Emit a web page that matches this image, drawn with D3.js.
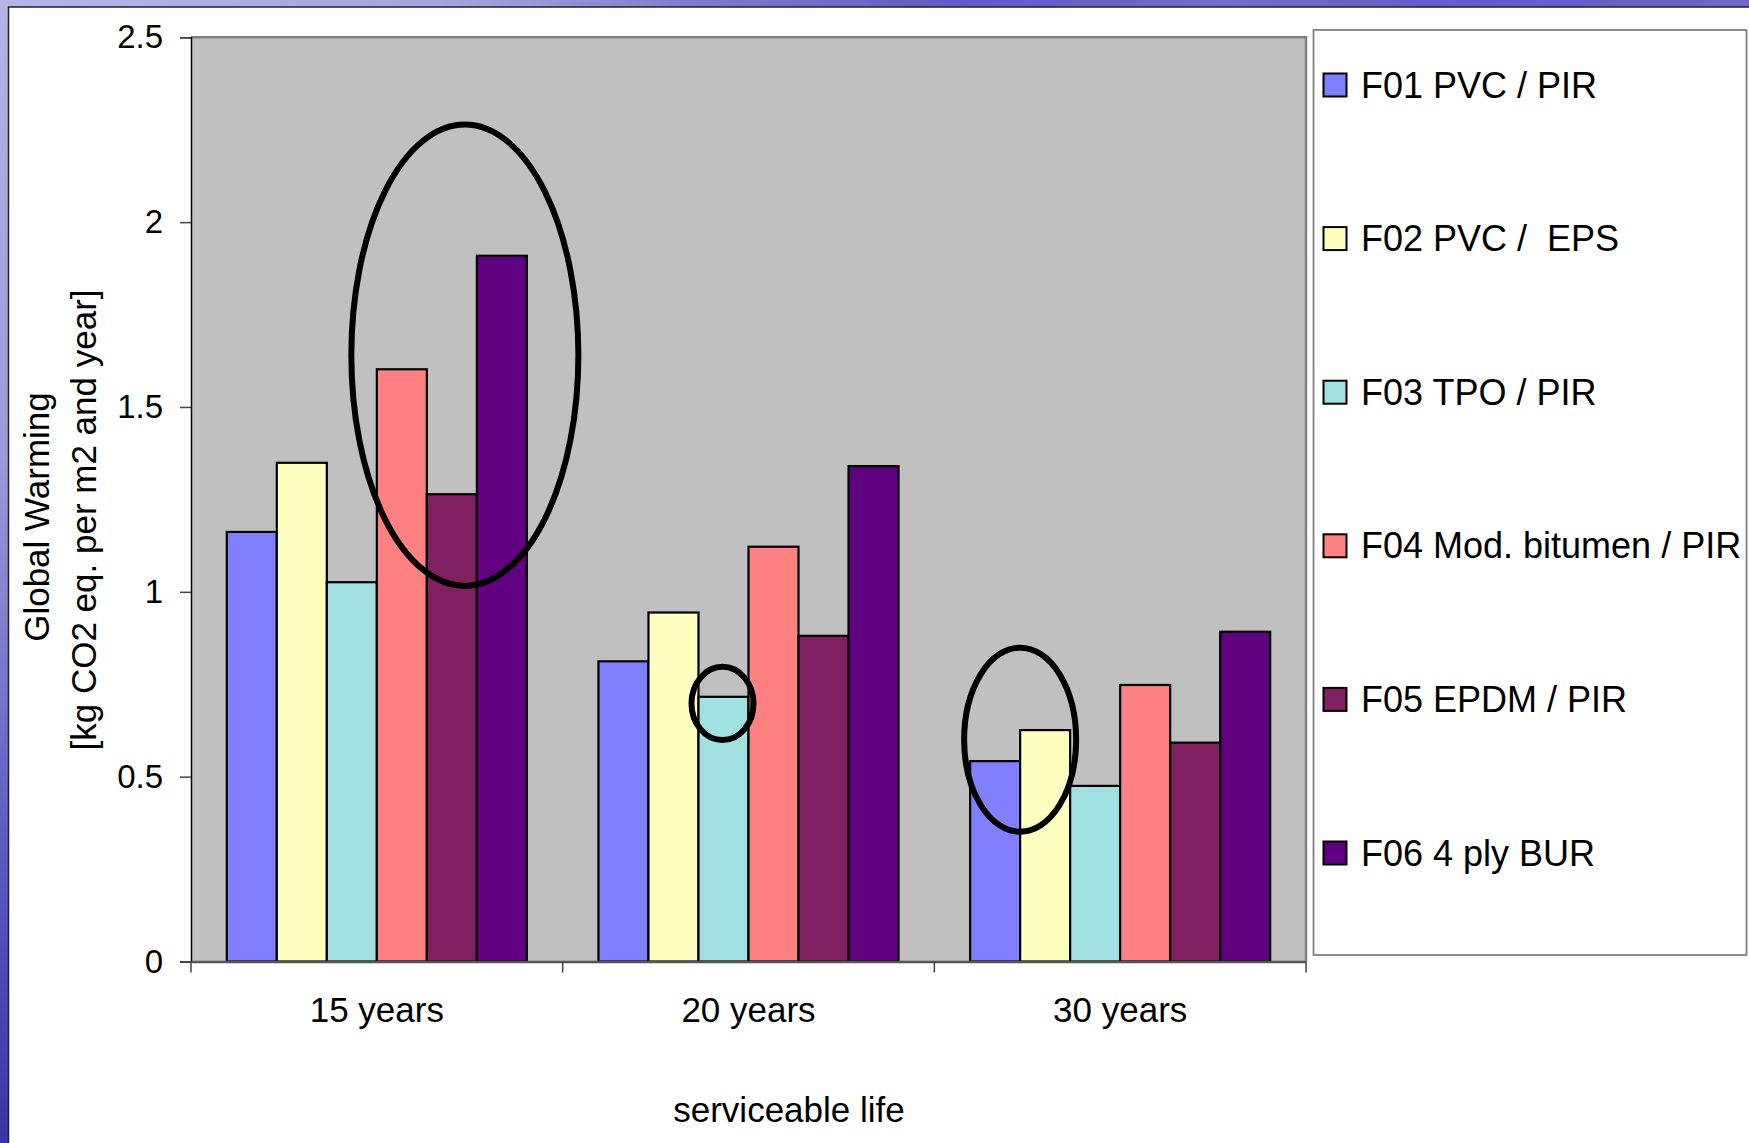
<!DOCTYPE html>
<html>
<head>
<meta charset="utf-8">
<script src="https://cdn.jsdelivr.net/npm/d3@7"></script>
<style>
  html, body { margin: 0; padding: 0; background: #fff; }
  svg { display: block; }
  text { font-family: "Liberation Sans", Arial, sans-serif; fill: #000; }
</style>
</head>
<body>
<svg id="chart" width="1749" height="1143"></svg>
<script>
// ---- data ----
const categories = ["15 years", "20 years", "30 years"];
const seriesNames = ["F01 PVC / PIR", "F02 PVC /  EPS", "F03 TPO / PIR", "F04 Mod. bitumen / PIR", "F05 EPDM / PIR", "F06 4 ply BUR"];
const seriesColors = ["#8080FF", "#FFFFC0", "#A0E0E0", "#FF8080", "#802060", "#600080"];
const F01 = [1.162, 0.812, 0.542];
const F02 = [1.349, 0.944, 0.626];
const F03 = [1.026, 0.716, 0.475];
const F04 = [1.602, 1.122, 0.748];
const F05 = [1.264, 0.881, 0.592];
const F06 = [1.909, 1.340, 0.892];
const seriesValues = [F01, F02, F03, F04, F05, F06];
const yTicks = [0, 0.5, 1, 1.5, 2, 2.5];
const yTickLabels = ["0", "0.5", "1", "1.5", "2", "2.5"];
const yTitle = ["Global Warming", "[kg CO2 eq. per m2 and year]"];
const xTitle = "serviceable life";
// annotation ellipses: category, centre in bar slots, centre value, radii (slots / value units)
const annotCategory = ["15 years", "20 years", "30 years"];
const annotSlot = [4.76, 2.48, 1.0];
const annotValue = [1.64, 0.698, 0.60];
const annotRxSlots = [2.27, 0.62, 1.12];
const annotRyValue = [0.624, 0.099, 0.249];

// ---- layout ----
const W = 1749, H = 1143;
const plot = { left: 191, right: 1306, top: 37.3, bottom: 961.5 };
const svg = d3.select("#chart");

// background gradients (slide)
const defs = svg.append("defs");
const gTop = defs.append("linearGradient").attr("id", "gTop").attr("x1", 0).attr("x2", 1).attr("y1", 0).attr("y2", 0);
[["0%", "#B4B4E6"], ["25%", "#A6A6DE"], ["40%", "#7C7CD2"], ["55%", "#5C5CC4"], ["70%", "#6E6ED0"], ["85%", "#5E5EC6"], ["100%", "#6A6ACC"]]
  .forEach(s => gTop.append("stop").attr("offset", s[0]).attr("stop-color", s[1]));
const gLeft = defs.append("linearGradient").attr("id", "gLeft").attr("x1", 0).attr("x2", 0).attr("y1", 0).attr("y2", 1);
[["0%", "#B4B4E6"], ["40%", "#9A9AD8"], ["75%", "#5A5AC0"], ["100%", "#3636A8"]]
  .forEach(s => gLeft.append("stop").attr("offset", s[0]).attr("stop-color", s[1]));

svg.append("rect").attr("x", 0).attr("y", 0).attr("width", W).attr("height", H).attr("fill", "url(#gLeft)");
svg.append("rect").attr("x", 0).attr("y", 0).attr("width", W).attr("height", 7).attr("fill", "url(#gTop)");
svg.append("rect").attr("x", 8.5).attr("y", 7).attr("width", W).attr("height", H)
  .attr("fill", "#fff").attr("stroke", "#222").attr("stroke-width", 1.5);

// scales
const x0 = d3.scaleBand().domain(categories).range([plot.left, plot.right]).paddingInner(0).paddingOuter(0);
const x1 = d3.scaleBand().domain(d3.range(seriesNames.length)).range([0, x0.bandwidth()]).paddingInner(0).paddingOuter(0.716);
const y = d3.scaleLinear().domain([0, 2.5]).range([plot.bottom, plot.top]);

// plot area
svg.append("rect").attr("x", plot.left).attr("y", plot.top)
  .attr("width", plot.right - plot.left).attr("height", plot.bottom - plot.top)
  .attr("fill", "#C0C0C0");
svg.append("path")
  .attr("d", `M${plot.left},${plot.top}H${plot.right}V${plot.bottom}`)
  .attr("fill", "none").attr("stroke", "#808080").attr("stroke-width", 2.5);

// bars
const groups = svg.append("g").selectAll("g").data(categories).join("g")
  .attr("transform", d => `translate(${x0(d)},0)`);
groups.selectAll("rect")
  .data((c, ci) => seriesValues.map((vals, si) => ({ si, v: vals[ci] })))
  .join("rect")
  .attr("x", d => x1(d.si))
  .attr("y", d => y(d.v))
  .attr("width", x1.bandwidth())
  .attr("height", d => y(0) - y(d.v))
  .attr("fill", d => seriesColors[d.si])
  .attr("stroke", "#000").attr("stroke-width", 2.2);

// y axis
const yAxis = d3.axisLeft(y).tickValues(yTicks).tickFormat((d, i) => yTickLabels[i]).tickSize(11).tickPadding(17);
const gy = svg.append("g").attr("transform", `translate(${plot.left},0)`).call(yAxis);
gy.select(".domain").attr("stroke", "#000").attr("stroke-width", 1.5);
gy.selectAll(".tick line").attr("stroke", "#444").attr("stroke-width", 1.5);
gy.selectAll(".tick text").attr("font-size", 33).attr("font-family", "Liberation Sans, Arial, sans-serif").attr("fill", "#000");

// x axis
const xAxis = d3.axisBottom(x0).tickSize(0).tickPadding(0);
const gx = svg.append("g").attr("transform", `translate(0,${plot.bottom})`).call(xAxis);
gx.select(".domain").attr("stroke", "#555").attr("stroke-width", 2.5);
gx.selectAll(".tick text").attr("font-size", 35).attr("font-family", "Liberation Sans, Arial, sans-serif")
  .attr("fill", "#000").attr("dy", null).attr("y", 60);
// category separator ticks
const sepX = categories.map(c => x0(c)).concat([x0(categories[categories.length - 1]) + x0.bandwidth()]);
svg.append("g").selectAll("line").data(sepX).join("line")
  .attr("x1", d => d).attr("x2", d => d)
  .attr("y1", plot.bottom).attr("y2", plot.bottom + 11)
  .attr("stroke", "#444").attr("stroke-width", 1.5);

// axis titles
svg.append("text").attr("font-size", 35).attr("text-anchor", "middle")
  .attr("transform", `translate(49,517) rotate(-90)`).text(yTitle[0]);
svg.append("text").attr("font-size", 35).attr("text-anchor", "middle")
  .attr("transform", `translate(96,520) rotate(-90)`).text(yTitle[1]);
svg.append("text").attr("font-size", 35).attr("text-anchor", "middle")
  .attr("x", 789).attr("y", 1122).text(xTitle);

// annotation ellipses
const slotW = x1.step();
svg.append("g").selectAll("ellipse").data(annotCategory).join("ellipse")
  .attr("cx", (c, i) => x0(c) + x1(0) + annotSlot[i] * slotW)
  .attr("cy", (c, i) => y(annotValue[i]))
  .attr("rx", (c, i) => annotRxSlots[i] * slotW)
  .attr("ry", (c, i) => y(0) - y(annotRyValue[i]))
  .attr("fill", "none").attr("stroke", "#000").attr("stroke-width", 6);

// legend
const legend = { x: 1313.5, y: 30, w: 433, h: 925 };
svg.append("rect").attr("x", legend.x).attr("y", legend.y).attr("width", legend.w).attr("height", legend.h)
  .attr("fill", "#fff").attr("stroke", "#808080").attr("stroke-width", 1.8);
const ly = d3.scalePoint().domain(seriesNames).range([85, 853]);
const li = svg.append("g").selectAll("g").data(seriesNames).join("g")
  .attr("transform", d => `translate(0,${ly(d)})`);
li.append("rect").attr("x", 1323.5).attr("y", -11.5).attr("width", 23).attr("height", 23)
  .attr("fill", (d, i) => seriesColors[i]).attr("stroke", "#000").attr("stroke-width", 2);
li.append("text").attr("x", 1361).attr("y", 12.5).attr("font-size", 36).attr("xml:space", "preserve")
  .style("white-space", "pre").text(d => d);
</script>
</body>
</html>
